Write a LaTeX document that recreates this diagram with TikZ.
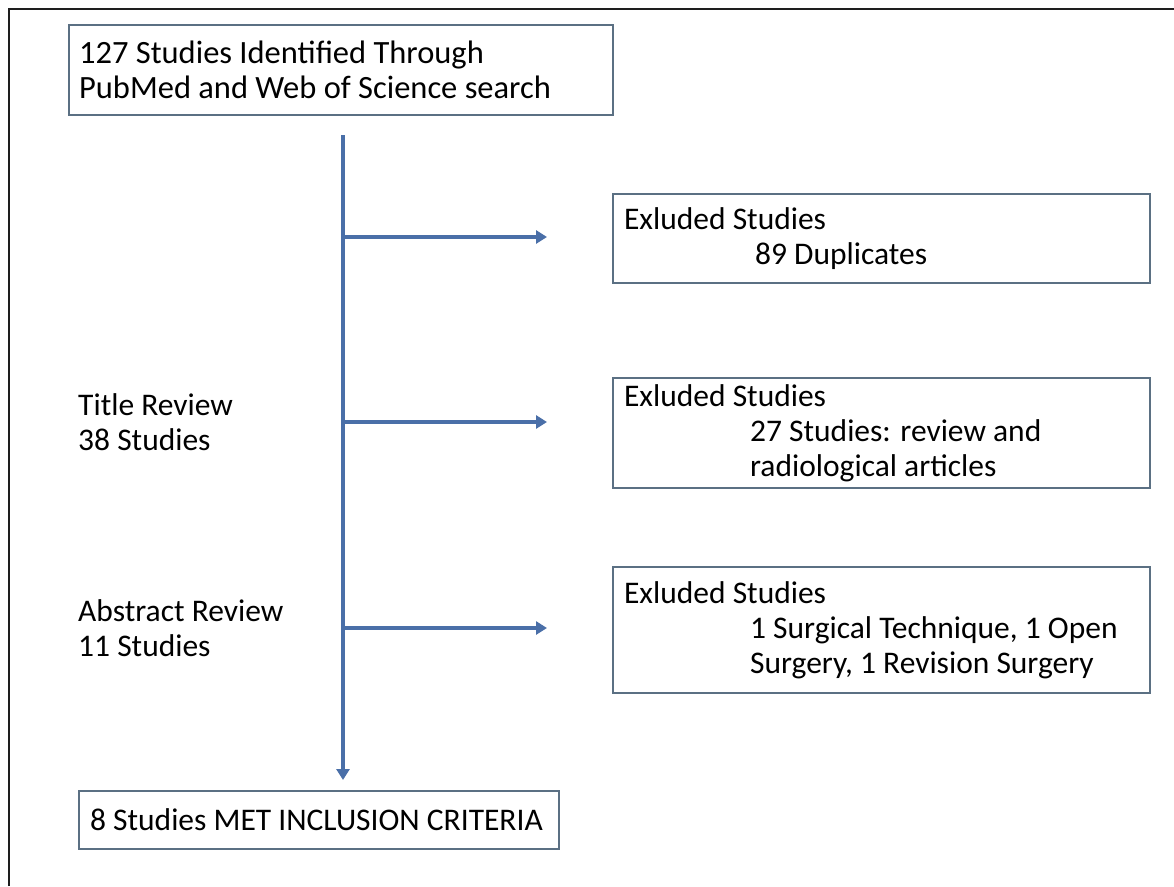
\documentclass[tikz,border=0pt]{standalone}
\usepackage{fontspec}
\setmainfont{Carlito}
\usetikzlibrary{arrows.meta}
\definecolor{boxline}{HTML}{5B7083}
\definecolor{flow}{HTML}{4A6FA8}
\definecolor{frameline}{HTML}{1E1E1E}
\tikzset{
  box/.style={draw=boxline, line width=2.2pt, anchor=north west, align=flush left,
    inner xsep=11pt, inner ysep=0pt, font=\fontsize{31.5}{35}\selectfont},
  label/.style={anchor=west, align=flush left, inner sep=0pt, font=\fontsize{31.5}{35}\selectfont},
  flowline/.style={draw=flow, line width=3.2pt},
  flowarrow/.style={flowline, -{Triangle[length=11pt,width=13pt]}}
}
\begin{document}
\begin{tikzpicture}[x=1pt,y=-1pt]
\useasboundingbox (0,0) rectangle (1174,886);
\fill[white] (0,0) rectangle (1174,886);
% frame
\draw[frameline, line width=2pt] (9,886) -- (9,9) -- (1174,9);
% boxes
\node[box, minimum width=544pt, minimum height=90pt, text width=524pt, inner xsep=10pt,
  font=\fontsize{32.5}{35}\selectfont] (top) at (68,24)
  {127 Studies Identified Through\\PubMed and Web of Science search};
\node[box, minimum width=537pt, minimum height=89pt, text width=515pt] (ex1) at (612,193)
  {Exluded Studies\\\hspace*{131pt}89 Duplicates};
\node[box, minimum width=537pt, minimum height=110pt, text width=515pt] (ex2) at (612,377)
  {Exluded Studies\\\hspace*{126pt}27 Studies: review and\\\hspace*{126pt}radiological articles};
\node[box, minimum width=537pt, minimum height=126pt, text width=515pt] (ex3) at (612,566)
  {Exluded Studies\\\hspace*{126pt}1 Surgical Technique, 1 Open\\\hspace*{126pt}Surgery, 1 Revision Surgery};
\node[box, minimum width=480pt, minimum height=58pt, text width=458pt] (final) at (78,790)
  {8 Studies MET INCLUSION CRITERIA};
% side labels
\node[label] (title) at (78,422) {Title Review\\38 Studies};
\node[label] (abstract) at (78,628) {Abstract Review\\11 Studies};
% flow
\coordinate (vtop) at (343,135);
\coordinate (vend) at (343,780);
\coordinate (j1) at (343,237);
\coordinate (j2) at (343,422);
\coordinate (j3) at (343,628);
\coordinate (t1) at (547,237);
\coordinate (t2) at (547,422);
\coordinate (t3) at (547,628);
\draw[flowarrow] (vtop) -- (vend);
\draw[flowarrow] (j1) -- (t1);
\draw[flowarrow] (j2) -- (t2);
\draw[flowarrow] (j3) -- (t3);
\end{tikzpicture}
\end{document}
